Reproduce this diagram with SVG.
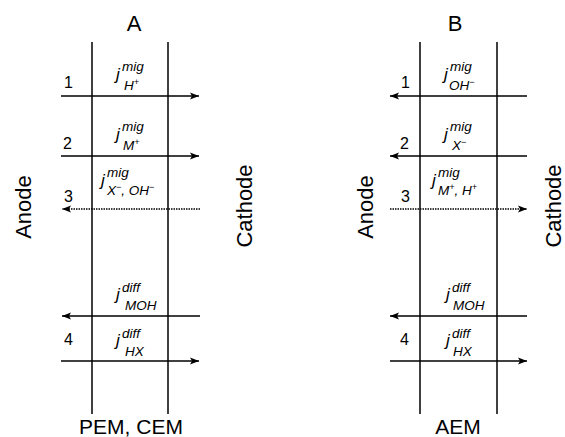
<svg xmlns="http://www.w3.org/2000/svg" width="565" height="437" viewBox="0 0 565 437">
<style>
text{font-family:"Liberation Sans",Arial,sans-serif;fill:#000}
.big{font-size:22px}
.bot{font-size:21px}
.num{font-size:16px}
.j{font-size:17px;font-style:italic}
.sup{font-size:13.5px;font-style:italic}
.sub{font-size:13.5px;font-style:italic}
.ch{font-size:9px}
.mem{stroke:#000;stroke-width:1.5;fill:none}
.arr{stroke:#000;stroke-width:1.6;fill:none}
.dot{stroke:#000;stroke-width:1.6;fill:none;stroke-dasharray:1.5 1}
</style>
<defs>
<marker id="ah" markerWidth="10" markerHeight="8" refX="9" refY="4" orient="auto" markerUnits="userSpaceOnUse">
<path d="M0,0.5 L9,4 L0,7.5 L2,4 Z" fill="#000"/>
</marker>
</defs>
<rect width="565" height="437" fill="#fff"/>

<g id="panelA">
<text class="big" x="134" y="31" text-anchor="middle">A</text>
<text class="big" transform="translate(31,207) rotate(-90)" text-anchor="middle">Anode</text>
<text class="big" transform="translate(252,206) rotate(-90)" text-anchor="middle">Cathode</text>
<line class="mem" x1="92" y1="42" x2="92" y2="414"/>
<line class="mem" x1="168" y1="42" x2="168" y2="414"/>
<text class="bot" x="131" y="434" text-anchor="middle">PEM, CEM</text>
</g>

<g id="panelB">
<text class="big" x="455" y="31" text-anchor="middle">B</text>
<text class="big" transform="translate(373,207) rotate(-90)" text-anchor="middle">Anode</text>
<text class="big" transform="translate(561,206) rotate(-90)" text-anchor="middle">Cathode</text>
<line class="mem" x1="420" y1="42" x2="420" y2="414"/>
<line class="mem" x1="497" y1="42" x2="497" y2="414"/>
<text class="bot" x="458" y="434" text-anchor="middle">AEM</text>
</g>

<g id="labelsA">
<text class="num" x="64" y="88">1</text>
<text class="j" x="116" y="80">j</text><text class="sup" x="122" y="71">mig</text><text class="sub" x="124" y="90">H<tspan class="ch" dy="-5">+</tspan></text>
<text class="num" x="63" y="149">2</text>
<text class="j" x="116" y="140">j</text><text class="sup" x="122" y="131">mig</text><text class="sub" x="123" y="150">M<tspan class="ch" dy="-5">+</tspan></text>
<text class="num" x="64" y="202">3</text>
<text class="j" x="101" y="186">j</text><text class="sup" x="107" y="177">mig</text><text class="sub" x="107" y="195">X<tspan class="ch" dy="-5">−</tspan><tspan dy="5">, OH</tspan><tspan class="ch" dy="-5">−</tspan></text>
<text class="j" x="116" y="300">j</text><text class="sup" x="122" y="292">diff</text><text class="sub" x="125" y="310">MOH</text>
<text class="num" x="64" y="345">4</text>
<text class="j" x="116" y="346">j</text><text class="sup" x="122" y="338">diff</text><text class="sub" x="125" y="356">HX</text>
</g>

<g id="labelsB">
<text class="num" x="401" y="88">1</text>
<text class="j" x="444" y="80">j</text><text class="sup" x="450" y="71">mig</text><text class="sub" x="449" y="90">OH<tspan class="ch" dy="-5">−</tspan></text>
<text class="num" x="400" y="149">2</text>
<text class="j" x="444" y="140">j</text><text class="sup" x="450" y="131">mig</text><text class="sub" x="452" y="150">X<tspan class="ch" dy="-5">−</tspan></text>
<text class="num" x="401" y="202">3</text>
<text class="j" x="432" y="186">j</text><text class="sup" x="438" y="177">mig</text><text class="sub" x="438" y="195">M<tspan class="ch" dy="-5">+</tspan><tspan dy="5">, H</tspan><tspan class="ch" dy="-5">+</tspan></text>
<text class="j" x="446" y="300">j</text><text class="sup" x="452" y="292">diff</text><text class="sub" x="453" y="310">MOH</text>
<text class="num" x="400" y="345">4</text>
<text class="j" x="446" y="346">j</text><text class="sup" x="452" y="338">diff</text><text class="sub" x="453" y="356">HX</text>
</g>

<g id="connectors">
<line class="arr" x1="61" y1="96" x2="199" y2="96" marker-end="url(#ah)"/>
<line class="arr" x1="61" y1="156" x2="199" y2="156" marker-end="url(#ah)"/>
<line class="dot" x1="200" y1="209" x2="62" y2="209" marker-end="url(#ah)"/>
<line class="arr" x1="200" y1="316" x2="62" y2="316" marker-end="url(#ah)"/>
<line class="arr" x1="61" y1="361" x2="199" y2="361" marker-end="url(#ah)"/>

<line class="arr" x1="527" y1="96" x2="390" y2="96" marker-end="url(#ah)"/>
<line class="arr" x1="527" y1="156" x2="390" y2="156" marker-end="url(#ah)"/>
<line class="dot" x1="390" y1="209" x2="527" y2="209" marker-end="url(#ah)"/>
<line class="arr" x1="527" y1="316" x2="390" y2="316" marker-end="url(#ah)"/>
<line class="arr" x1="390" y1="361" x2="527" y2="361" marker-end="url(#ah)"/>
</g>
</svg>
